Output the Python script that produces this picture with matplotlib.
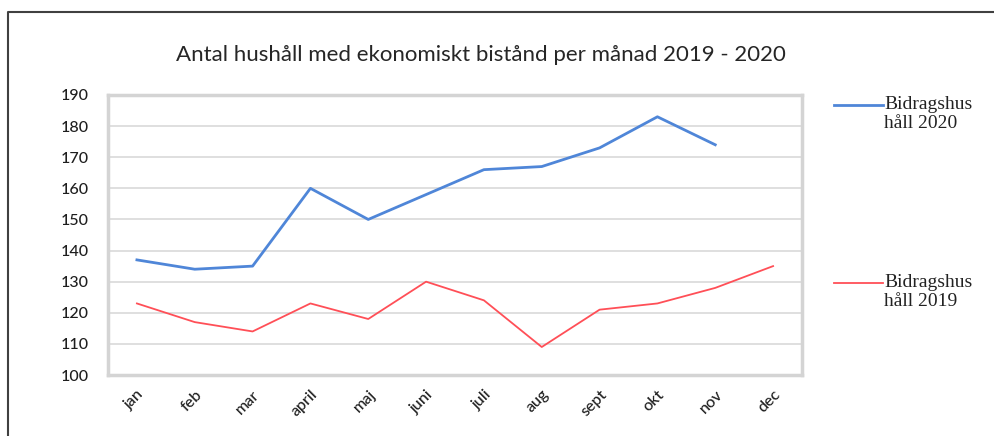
import matplotlib.pyplot as plt
from matplotlib.lines import Line2D

manader = ['jan', 'feb', 'mar', 'april', 'maj', 'juni', 'juli', 'aug',
           'sept', 'okt', 'nov', 'dec']
hushall_2020 = [137, 134, 135, 160, 150, 158, 166, 167, 173, 183, 174]
hushall_2019 = [123, 117, 114, 123, 118, 130, 124, 109, 121, 123, 128, 135]

bla = '#4f86d8'
rod = '#ff4f57'

fig = plt.figure(figsize=(9.95, 4.36), dpi=100)
W, H = 995, 436
ax = fig.add_axes([108 / W, 1 - 375 / H, (802 - 108) / W, (375 - 95) / H])

x = range(len(manader))
ax.plot(range(len(hushall_2020)), hushall_2020, color=bla, lw=2.0,
        solid_joinstyle='round')
ax.plot(x, hushall_2019, color=rod, lw=1.3, solid_joinstyle='round')

ax.set_xlim(-0.5, len(manader) - 0.5)
ax.set_ylim(100, 190)
ax.set_yticks(range(100, 191, 10))
ax.set_xticks(list(x))
ax.set_xticklabels(manader, rotation=45, ha='right', rotation_mode='anchor')
ax.tick_params(length=0, labelcolor='#1e1e1e')
ax.tick_params(axis='y', labelsize=11.5, pad=14)
ax.tick_params(axis='x', labelsize=11.5, pad=9)
for lab in ax.get_xticklabels() + ax.get_yticklabels():
    lab.set_fontfamily('Lato')
    lab.set_fontweight('medium')
ax.grid(axis='y', color='#d9d9d9', lw=1.2)
ax.set_axisbelow(True)
for s in ax.spines.values():
    s.set_color('#d4d4d4')
    s.set_linewidth(2.5)

fig.text(481 / W, 1 - 55 / H,
         'Antal hushåll med ekonomiskt bistånd per månad 2019 - 2020',
         ha='center', va='center', fontsize=16, family='Lato', color='#262626')

# legend drawn by hand so each entry sits next to its line level
for y, farg, lw, txt in [(105, bla, 2.0, 'Bidragshus\nhåll 2020'),
                         (283, rod, 1.3, 'Bidragshus\nhåll 2019')]:
    fig.add_artist(Line2D([834 / W, 883 / W], [1 - y / H, 1 - y / H],
                          color=farg, lw=lw))
    fig.text(884 / W, 1 - (y - 9) / H, txt, ha='left', va='top',
             fontsize=14, family='Liberation Serif', color='#222222',
             linespacing=1.15)

# outer frame of the chart object
fig.add_artist(Line2D([8 / W, 8 / W, 1.0], [0, 1 - 12 / H, 1 - 12 / H],
                      color='#404040', lw=1.5))

fig.savefig('out.png', dpi=100)
